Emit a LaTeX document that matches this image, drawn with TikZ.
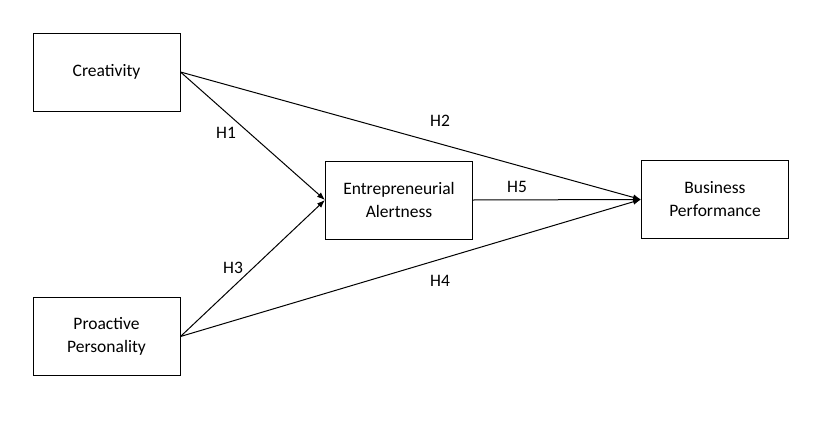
\documentclass[tikz,border=0pt]{standalone}
\usepackage{fontspec}
\setmainfont{Carlito}
\usetikzlibrary{arrows.meta}
\begin{document}
\begin{tikzpicture}[x=1pt, y=-1pt, >={Latex[length=8pt,width=6pt]},
  box/.style={draw, line width=1pt, minimum width=147pt, minimum height=78pt,
    align=center, font=\fontsize{17.5}{23}\selectfont, inner sep=0pt},
  path/.style={->, line width=1pt},
  hyp/.style={font=\fontsize{17.5}{23}\selectfont}]
  \useasboundingbox (0,0) rectangle (826,423);

  % Constructs
  \node[box] (cre) at (106.5,72) {Creativity};
  \node[box] (pro) at (106.5,336.5) {Proactive\\Personality};
  \node[box] (ale) at (399,200) {Entrepreneurial\\Alertness};
  \node[box] (per) at (715,199.5) {Business\\Performance};

  % Hypothesised paths
  \draw[path] (cre.east) -- (ale.west);
  \draw[path] (cre.east) -- (per.west);
  \draw[path] (pro.east) -- (ale.west);
  \draw[path] (pro.east) -- (per.west);
  \draw[path] (ale.east) -- (per.west);

  % Labels
  \node[hyp] (h1) at (226,133) {H1};
  \node[hyp] (h2) at (440,121) {H2};
  \node[hyp] (h3) at (233,268) {H3};
  \node[hyp] (h4) at (440,281) {H4};
  \node[hyp] (h5) at (517,187) {H5};
\end{tikzpicture}
\end{document}
